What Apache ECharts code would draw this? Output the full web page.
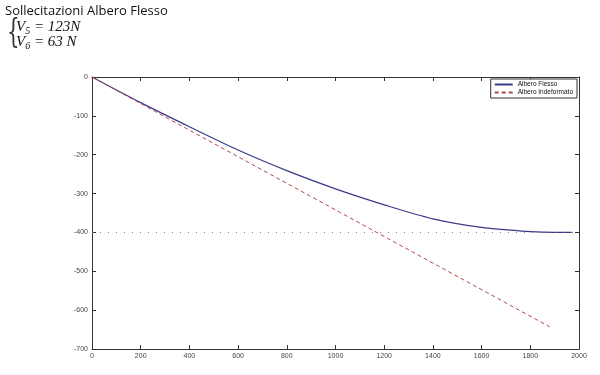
<!DOCTYPE html>
<html><head><meta charset="utf-8">
<script src="https://cdn.jsdelivr.net/npm/echarts@6/dist/echarts.min.js"></script>
<style>html,body{margin:0;padding:0;background:#fff}#c{width:600px;height:375px}</style>
</head><body><div id="c"></div>
<script>
var titleText = 'Sollecitazioni Albero Flesso';
var xTicks = [0,200,400,600,800,1000,1200,1400,1600,1800,2000];
var yTicks = [0,-100,-200,-300,-400,-500,-600,-700];
var flessoX = [0,200,400,600,800,1000,1200,1400,1600,1800,1900,1970];
var flessoY = [0,-66,-128,-188,-241,-288,-329,-365,-387,-398,-400,-400];
var indefX = [0,1880];
var indefY = [0,-643];
var limitX = [0,2000];
var limitY = [-400,-400];

function pairs(a,b){return a.map(function(v,i){return [v,b[i]];});}
var chart = echarts.init(document.getElementById('c'));
function lbl(list){return {show:true, margin:4, fontSize:7, color:'#444', fontFamily:'Liberation Sans', formatter:function(v){return list.indexOf(v)>=0?String(v):'';}};}
function axLine(){return {show:true, onZero:false, lineStyle:{color:'#333', width:1}};}
function tick(){return {show:true, inside:true, length:4, lineStyle:{color:'#333', width:1}};}
var eqRich = {v:{fontSize:15,fontFamily:'Liberation Serif',fontStyle:'italic',fill:'#111'}, s:{fontSize:10,fontFamily:'Liberation Serif',fontStyle:'italic',fill:'#111',padding:[8,0,0,0]}};
chart.setOption({
  animation:false,
  backgroundColor:'#fff',
  grid:{left:92, right:21, top:77, bottom:26, show:false},
  graphic:[
    {type:'text', left:5, top:5, style:{text:titleText, fontSize:13, fontFamily:'Open Sans', fill:'#111'}},
    {type:'text', x:7, y:17, scaleX:0.6, style:{text:'{', fontSize:33, fontFamily:'DejaVu Serif', fill:'#333'}},
    {type:'text', left:16, top:20, style:{text:'{v|V}{s|5}{v| = 123}{v|N}', rich:eqRich}},
    {type:'text', left:16, top:35, style:{text:'{v|V}{s|6}{v| = 63 }{v|N}', rich:eqRich}}
  ],
  legend:{
    orient:'vertical', right:23, top:79, padding:[2,4,2,3], itemGap:1,
    borderColor:'#333', borderWidth:1, backgroundColor:'#fff',
    itemWidth:18, itemHeight:6,
    itemStyle:{color:'rgba(0,0,0,0)', borderWidth:0, opacity:0},
    textStyle:{fontSize:6.5, color:'#111', fontFamily:'Liberation Sans'},
    data:['Albero Flesso','Albero Indeformato']
  },
  xAxis:[
    {type:'value', min:0, max:2000, interval:200, position:'bottom',
     axisLine:axLine(), axisTick:tick(), axisLabel:lbl(xTicks), splitLine:{show:false}},
    {type:'value', min:0, max:2000, interval:200, position:'top',
     axisLine:axLine(), axisTick:tick(), axisLabel:{show:false}, splitLine:{show:false}}
  ],
  yAxis:[
    {type:'value', min:-700, max:0, interval:100, position:'left',
     axisLine:axLine(), axisTick:tick(), axisLabel:lbl(yTicks), splitLine:{show:false}},
    {type:'value', min:-700, max:0, interval:100, position:'right',
     axisLine:axLine(), axisTick:tick(), axisLabel:{show:false}, splitLine:{show:false}}
  ],
  series:[
    {name:'Albero Flesso', type:'line', smooth:0.3, symbol:'none',
     data:pairs(flessoX,flessoY), lineStyle:{color:'#3a3a8a', width:1.2}, itemStyle:{color:'#3a3a8a'}},
    {name:'Albero Indeformato', type:'line', symbol:'none',
     data:pairs(indefX,indefY), lineStyle:{color:'#b04a4a', width:1, type:[4,3]}, itemStyle:{color:'#b04a4a'}},
    {name:'limit', type:'line', symbol:'none', silent:true,
     data:pairs(limitX,limitY), lineStyle:{color:'#777', width:1, type:[1,7]}}
  ]
});
</script></body></html>
